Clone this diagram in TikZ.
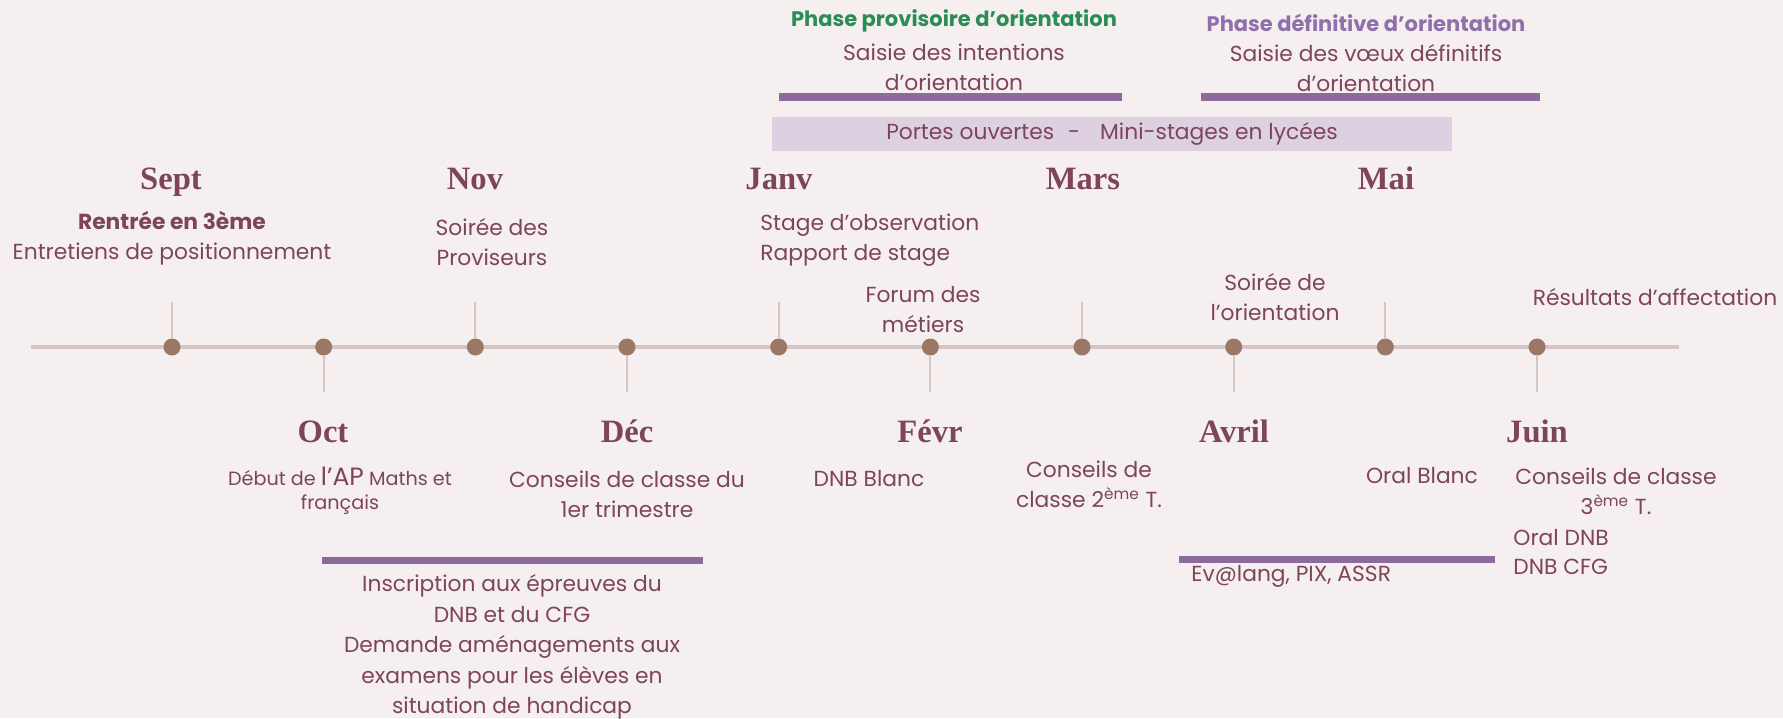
\documentclass[tikz,border=0pt]{standalone}
\usepackage{fontspec}
\setmainfont{Poppins}
\newfontfamily\moisfont{Liberation Serif}
\definecolor{fond}{HTML}{F5EFEF}
\definecolor{texte}{HTML}{7E4559}
\definecolor{ligne}{HTML}{D5C5C6}
\definecolor{point}{HTML}{9B7865}
\definecolor{barre}{HTML}{8C6B9C}
\definecolor{cadre}{HTML}{DDD0E1}
\definecolor{vert}{HTML}{2B8C55}
\definecolor{violet}{HTML}{9070AC}
\tikzset{
  mois/.style={font=\moisfont\bfseries\fontsize{16.3}{18}\selectfont, text=texte, inner sep=0pt, anchor=base},
  evt/.style={font=\fontsize{10.9}{15}\selectfont, text=texte, align=center, inner sep=0pt},
  petit/.style={font=\fontsize{9.6}{12}\selectfont, text=texte, align=center, inner sep=0pt},
  jalon/.style={circle, fill=point, minimum size=8.5pt, inner sep=0pt},
  trait/.style={ligne, line width=1.1pt},
  periode/.style={barre, line width=4pt},
}

\begin{document}
\begin{tikzpicture}[x=0.5pt,y=-0.5pt]
\fill[fond] (0,0) rectangle (1783,718);
\useasboundingbox (0,0) rectangle (1783,718);

% phases d'orientation
\node[evt, font=\bfseries\fontsize{10.5}{15}\selectfont, text=vert] (provi) at (954,21) {Phase provisoire d’orientation};
\node[evt] (intent) at (954,67) {Saisie des intentions\\d’orientation};
\coordinate (p1) at (779,97); \coordinate (p2) at (1122,97);
\draw[periode] (p1) -- (p2);
\node[evt, font=\bfseries\fontsize{10.5}{15}\selectfont, text=violet] (defi) at (1366,23) {Phase définitive d’orientation};
\node[evt] (voeux) at (1366,68) {Saisie des vœux définitifs\\d’orientation};
\coordinate (q1) at (1201,97); \coordinate (q2) at (1540,97);
\draw[periode] (q1) -- (q2);
\fill[cadre] (772,117) rectangle (1452,151);
\node[evt] (portes) at (1112,134) {Portes ouvertes\hspace{7pt}-\hspace{10pt}Mini-stages en lycées};

% ligne du temps
\coordinate (debut) at (31,347);
\coordinate (fin) at (1679,347);
\draw[ligne, line width=1.6pt] (debut) -- (fin);
\foreach \m [count=\i from 0] in {sept,oct,nov,dec,janv,fevr,mars,avril,mai,juin}
  \node[jalon] (\m) at ({172+151.67*\i},347) {};
\foreach \m in {sept,nov,janv,mars,mai}
  \draw[trait] (\m.north) -- ++(0,-36);
\foreach \m in {oct,dec,fevr,avril,juin}
  \draw[trait] (\m.south) -- ++(0,36);

% les mois
\node[mois] (msept) at (171,189) {Sept};
\node[mois] (mnov) at (475,189) {Nov};
\node[mois] (mjanv) at (779,189) {Janv};
\node[mois] (mmars) at (1083,189) {Mars};
\node[mois] (mmai) at (1386,189) {Mai};
\node[mois] (moct) at (323,442) {Oct};
\node[mois] (mdec) at (627,442) {Déc};
\node[mois] (mfevr) at (930,442) {Févr};
\node[mois] (mavril) at (1234,442) {Avril};
\node[mois] (mjuin) at (1537,442) {Juin};

% au-dessus
\node[evt] (rentree) at (172,238) {\textbf{Rentrée en 3ème}\\Entretiens de positionnement};
\node[evt] (proviseurs) at (492,242) {Soirée des\\Proviseurs};
\node[evt, anchor=west, align=left] (stage) at (760,240) {Stage d’observation\\Rapport de stage};
\node[evt] (forum) at (923,310) {Forum des\\métiers};
\node[evt] (soiree) at (1275,297) {Soirée de\\l’orientation};
\node[evt] (resultats) at (1655,297) {Résultats d’affectation};

% en dessous
\node[petit] (ap) at (340,491) {Début de {\fontsize{12.5}{12}\selectfont l’AP} Maths et\\français};
\node[evt] (conseil1) at (627,494) {Conseils de classe du\\1er trimestre};
\node[evt] (dnbblanc) at (869,479) {DNB Blanc};
\node[evt] (conseil2) at (1089,484) {Conseils de\\classe 2\textsuperscript{ème} T.};
\node[evt] (oral) at (1422,476) {Oral Blanc};
\node[evt] (conseil3) at (1616,491) {Conseils de classe\\3\textsuperscript{ème} T.};
\node[evt, anchor=west, align=left, font=\fontsize{10.9}{14.5}\selectfont] (dnb) at (1513,552) {Oral DNB\\DNB CFG};
\coordinate (r1) at (322,560); \coordinate (r2) at (703,560);
\draw[periode, line width=3.5pt] (r1) -- (r2);
\node[evt, font=\fontsize{10.9}{15.3}\selectfont] (inscription) at (512,647) {Inscription aux épreuves du\\DNB et du CFG\\Demande aménagements aux\\examens pour les élèves en\\situation de handicap};
\coordinate (s1) at (1179,559); \coordinate (s2) at (1495,559);
\draw[periode, line width=3.5pt] (s1) -- (s2);
\node[evt, anchor=west] (evalang) at (1191,576) {Ev@lang, PIX, ASSR};
\end{tikzpicture}
\end{document}
